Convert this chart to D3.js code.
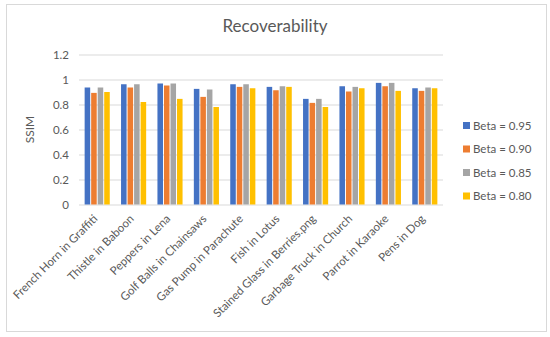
<!DOCTYPE html>
<html>
<head>
<meta charset="utf-8">
<script src="https://cdn.jsdelivr.net/npm/d3@7"></script>
<style>
  body { margin: 0; background: #fff; }
  text { font-family: Lato, 'Liberation Sans', sans-serif; fill: #595959; }
</style>
</head>
<body>
<div id="chart"></div>
<script>
const categories = [
  'French Horn in Graffiti', 'Thistle in Baboon', 'Peppers in Lena', 'Golf Balls in Chainsaws',
  'Gas Pump in Parachute', 'Fish in Lotus', 'Stained Glass in Berries.png',
  'Garbage Truck in Church', 'Parrot in Karaoke', 'Pens in Dog'
]
const seriesNames = ['Beta = 0.95', 'Beta = 0.90', 'Beta = 0.85', 'Beta = 0.80']
const beta095 = [0.936, 0.962, 0.968, 0.925, 0.962, 0.941, 0.845, 0.946, 0.973, 0.930]
const beta090 = [0.893, 0.936, 0.952, 0.861, 0.941, 0.914, 0.813, 0.904, 0.946, 0.909]
const beta085 = [0.936, 0.962, 0.968, 0.920, 0.962, 0.946, 0.845, 0.941, 0.973, 0.936]
const beta080 = [0.900, 0.820, 0.845, 0.780, 0.930, 0.941, 0.780, 0.930, 0.909, 0.930]
const yTicks = [0, 0.2, 0.4, 0.6, 0.8, 1, 1.2]
const colors = ['#4472C4', '#ED7D31', '#A5A5A5', '#FFC000']

const series = [beta095, beta090, beta085, beta080]
const W = 550, H = 337
const margin = { top: 54.5, left: 79, right: 107, bottom: 132.5 }
const width = W - margin.left - margin.right
const height = H - margin.top - margin.bottom

const svg = d3.select('#chart').append('svg').attr('width', W).attr('height', H)

svg.append('rect')
  .attr('x', 6.5).attr('y', 4.5).attr('width', 540).attr('height', 327)
  .attr('fill', '#fff').attr('stroke', '#D9D9D9')

svg.append('text')
  .text('Recoverability')
  .attr('x', 275).attr('y', 32)
  .attr('text-anchor', 'middle')
  .style('font-size', '17px')

const g = svg.append('g').attr('transform', `translate(${margin.left}, ${margin.top})`)

const x0 = d3.scaleBand().domain(categories).range([0, width]).paddingInner(0.31).paddingOuter(0.155)
const x1 = d3.scaleBand().domain(d3.range(series.length)).range([0, x0.bandwidth()]).paddingInner(0.15)
const y = d3.scaleLinear().domain([0, 1.2]).range([height, 0])

g.append('g')
  .selectAll('line')
  .data(yTicks)
  .enter()
  .append('line')
  .attr('x1', 0).attr('x2', width)
  .attr('y1', (d) => Math.round(y(d)) + 0.5).attr('y2', (d) => Math.round(y(d)) + 0.5)
  .attr('stroke', '#D9D9D9')

g.append('g')
  .selectAll('text')
  .data(yTicks)
  .enter()
  .append('text')
  .text((d) => d)
  .attr('x', -10).attr('y', (d) => y(d) + 4)
  .attr('text-anchor', 'end')
  .style('font-size', '11.5px')

g.append('text')
  .text('SSIM')
  .attr('transform', `translate(-45, ${height / 2})rotate(-90)`)
  .attr('text-anchor', 'middle')
  .style('font-size', '12px')

const groups = g.selectAll('.grp')
  .data(categories)
  .enter()
  .append('g')
  .attr('class', 'grp')
  .attr('transform', (d) => `translate(${x0(d)}, 0)`)

groups.selectAll('rect')
  .data((d, i) => series.map((s, k) => ({ k, v: s[i] })))
  .enter()
  .append('rect')
  .attr('x', (d) => x1(d.k))
  .attr('width', x1.bandwidth())
  .attr('y', (d) => y(d.v))
  .attr('height', (d) => height - y(d.v))
  .attr('fill', (d) => colors[d.k])

g.append('g')
  .selectAll('text')
  .data(categories)
  .enter()
  .append('text')
  .text((d) => d)
  .attr('transform', (d) => `translate(${x0(d) + x0.bandwidth() / 2 + 1}, ${height + 15})rotate(-45)`)
  .attr('text-anchor', 'end')
  .style('font-size', '11.5px')

const legend = svg.append('g').attr('transform', 'translate(463, 122)')
const items = legend.selectAll('g')
  .data(seriesNames)
  .enter()
  .append('g')
  .attr('transform', (d, i) => `translate(0, ${i * 23.5})`)
items.append('rect')
  .attr('width', 7).attr('height', 7)
  .attr('fill', (d, i) => colors[i])
items.append('text')
  .text((d) => d)
  .attr('x', 10).attr('y', 7.5)
  .style('font-size', '11.5px')
</script>
</body>
</html>
